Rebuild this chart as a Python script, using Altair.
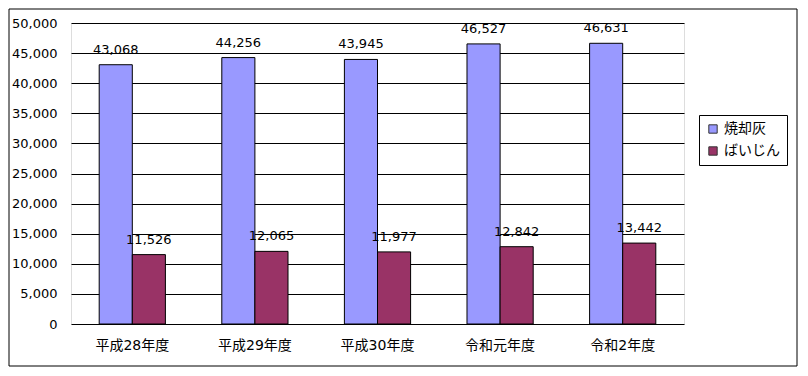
import altair as alt
import pandas as pd

years = ["平成28年度", "平成29年度", "平成30年度", "令和元年度", "令和2年度"]
series_names = ["焼却灰", "ばいじん"]
ash = [43068, 44256, 43945, 46527, 46631]
flyash = [11526, 12065, 11977, 12842, 13442]
colors = ["#9999FF", "#993366"]
y_ticks = [0, 5000, 10000, 15000, 20000, 25000, 30000, 35000, 40000, 45000, 50000]

rows = []
for i, yr in enumerate(years):
    rows.append({"year": yr, "series": series_names[0], "value": ash[i]})
    rows.append({"year": yr, "series": series_names[1], "value": flyash[i]})
df = pd.DataFrame(rows)

NUM_FONT = "DejaVu Sans"
JP_FONT = "DejaVu Sans, Noto Sans CJK JP"

x_enc = alt.X("year:N", sort=years, title=None,
              scale=alt.Scale(paddingInner=0.46, paddingOuter=0.23),
              axis=alt.Axis(labelAngle=0, ticks=False, domain=False, grid=False,
                            labelFont=JP_FONT, labelFontSize=14, labelColor="#000000",
                            labelPadding=14))
xoff = alt.XOffset("series:N", sort=series_names, scale=alt.Scale(paddingInner=0, paddingOuter=0))
y_enc = alt.Y("value:Q", title=None,
              scale=alt.Scale(domain=[0, 50000], nice=False),
              axis=alt.Axis(values=y_ticks, format=",d", ticks=False, domain=False,
                            grid=True, gridColor="#000000", gridWidth=1, gridOpacity=1,
                            labelFont=NUM_FONT, labelFontSize=13, labelColor="#000000",
                            labelPadding=14, labelOverlap=False, labelFlush=False))

bars = alt.Chart(df).mark_bar(stroke="#000000", strokeWidth=1).encode(
    x=x_enc, xOffset=xoff, y=y_enc,
    color=alt.Color("series:N", sort=series_names,
                    scale=alt.Scale(domain=series_names, range=colors),
                    legend=alt.Legend(title=None, orient="none", legendX=628, legendY=92,
                                      strokeColor="#000000", fillColor="#FFFFFF",
                                      padding=7, symbolType="square", symbolSize=70,
                                      symbolStrokeColor="#333333", symbolStrokeWidth=1,
                                      labelFont=JP_FONT, labelFontSize=14,
                                      labelColor="#000000", rowPadding=8,
                                      labelOffset=4)),
)

labels = alt.Chart(df).mark_text(baseline="alphabetic", dy=-11, font=NUM_FONT,
                                 fontSize=13, color="#000000").encode(
    x=x_enc, xOffset=xoff, y=y_enc,
    text=alt.Text("value:Q", format=","),
)

frame = alt.Chart(alt.Data(values=[{}])).mark_rect(
    fill=None, stroke="#000000", strokeWidth=1
).encode(x=alt.value(-62), x2=alt.value(726), y=alt.value(-14), y2=alt.value(343))

chart = alt.layer(frame, bars, labels).properties(
    width=613, height=301,
    autosize=alt.AutoSizeParams(type="none"),
    padding={"left": 63, "top": 15, "right": 116, "bottom": 44},
).configure_view(stroke="#000000", strokeWidth=1).configure(background="#FFFFFF")

chart.save("out.html", embed_options={"renderer": "svg", "actions": False})
